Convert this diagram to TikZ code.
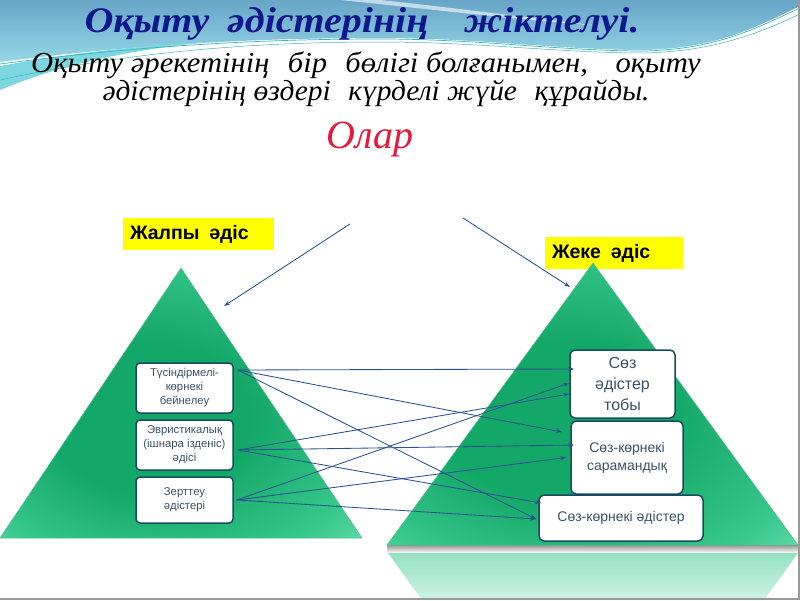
\documentclass[tikz,border=0pt]{standalone}
\usepackage{fontspec}
\setmainfont{Liberation Serif}
\newfontfamily\sansf{Liberation Sans}
\usetikzlibrary{arrows.meta,calc}
\definecolor{navy}{RGB}{12,24,140}
\definecolor{olred}{RGB}{232,25,60}
\definecolor{boxtext}{RGB}{60,82,104}
\definecolor{boxline}{RGB}{25,75,95}
\definecolor{arr}{RGB}{42,82,145}
\definecolor{trin}{RGB}{20,168,104}
\definecolor{trmid}{RGB}{55,200,140}
\definecolor{trout}{RGB}{150,236,205}
\definecolor{tredge}{RGB}{80,190,140}
\definecolor{tealtop}{RGB}{105,165,200}
\definecolor{tealbot}{RGB}{150,215,230}
\definecolor{cyanband}{RGB}{125,215,225}
\definecolor{tline}{RGB}{60,180,190}
\definecolor{lab}{RGB}{255,255,0}
\pgfdeclareradialshading{trishade}{\pgfpoint{-6bp}{-4bp}}{color(0bp)=(trin); color(14bp)=(trin); color(30bp)=(trmid); color(45bp)=(trout); color(50bp)=(trout)}
\tikzset{
  lbox/.style={draw=boxline,line width=1.5pt,rounded corners=4pt,fill=white,align=center,
    text=boxtext,font=\sansf\fontsize{11.3}{14}\selectfont,inner sep=1pt},
  rbox/.style={draw=boxline,line width=1.5pt,rounded corners=5pt,fill=white,align=center,
    text=boxtext,inner sep=1pt},
  ylab/.style={fill=lab,font=\sansf\bfseries\fontsize{19.5}{22}\selectfont,text=black,
    minimum height=32pt,align=left,inner xsep=7pt,inner ysep=0pt},
  link/.style={draw=arr,line width=0.85pt,-{Stealth[length=6pt,width=4pt]}},
  tri/.style={draw=tredge,line width=0.5pt,shading=trishade}
}
\begin{document}
\begin{tikzpicture}[x=1pt,y=-1pt]
\useasboundingbox (0,0) rectangle (800,600);
\fill[white] (0,0) rectangle (800,600);
% background wave
\shade[top color=tealtop,bottom color=tealbot]
  (0,0) -- (800,0) -- (800,6) .. controls (760,25) and (720,48) .. (645,50)
  .. controls (560,50) and (480,38) .. (380,38)
  .. controls (250,38) and (130,45) .. (0,62) -- cycle;
\fill[cyanband] (0,66) .. controls (60,55) and (130,46) .. (220,41)
  .. controls (130,49) and (60,65) .. (0,90) -- cycle;
\fill[white,opacity=0.6] (340,0) .. controls (420,8) and (500,18) .. (600,26)
  .. controls (500,14) and (420,4) .. (380,0) -- cycle;
\draw[tline,line width=0.7pt] (0,64) .. controls (130,47) and (250,39) .. (380,39)
  .. controls (480,39) and (560,51) .. (645,51) .. controls (720,49) and (760,26) .. (800,8);
\draw[tline,line width=0.5pt] (0,80) .. controls (130,52) and (250,42) .. (380,42)
  .. controls (480,42) and (560,53) .. (645,53) .. controls (720,51) and (765,30) .. (800,14);
% titles
\node[anchor=base,text=navy,font=\bfseries\itshape\fontsize{36}{40}\selectfont] (title) at (362,32)
  {\scalebox{1.11}[1]{Оқыту\hspace{0.45em}әдістерінің\hspace{0.9em}жіктелуі.}};
\node[anchor=base,font=\itshape\fontsize{29}{30}\selectfont] (sub1) at (366,72)
  {\scalebox{1.055}[1]{Оқыту әрекетінің\hspace{0.6em}бір\hspace{0.6em}бөлігі болғанымен,\hspace{0.9em}оқыту}};
\node[anchor=base,font=\itshape\fontsize{29}{30}\selectfont] (sub2) at (376,100)
  {\scalebox{1.015}[1]{әдістерінің өздері\hspace{0.6em}күрделі жүйе\hspace{0.6em}құрайды.}};
\node[anchor=base,text=olred,font=\itshape\fontsize{40}{44}\selectfont] (olar) at (370,148) {Олар};
% labels
\node[ylab,minimum width=151pt,text width=137pt] (gen) at (198.5,234) {Жалпы\hspace{0.5em}әдіс};
\node[ylab,minimum width=138pt,text width=124pt] (spec) at (614,253) {Жеке\hspace{0.5em}әдіс};
% right reflection and shadow
\shade[top color={rgb,255:red,150;green,150;blue,150},bottom color=white] (387,545) rectangle (798,553);
\shade[top color={rgb,255:red,150;green,226;blue,196},bottom color={rgb,255:red,205;green,242;blue,228}]
  (388,553) -- (798,553) -- (764,600) -- (422,600) -- cycle;
% triangles
\path[tri] (181,268) -- (362,538) -- (0,538) -- cycle;
\path[tri] (593,263) -- (798,545) -- (387,545) -- cycle;
% boxes
\node[lbox,minimum width=97pt,minimum height=50pt] (b1) at (184.5,388) {Түсіндірмелі-\\көрнекі\\бейнелеу};
\node[lbox,minimum width=97pt,minimum height=50pt] (b2) at (184.5,445) {Эвристикалық\\(ішнара ізденіс)\\әдісі};
\node[lbox,minimum width=97pt,minimum height=46pt] (b3) at (184.5,500) {Зерттеу\\әдістері};
\node[rbox,minimum width=105pt,minimum height=68pt,font=\sansf\fontsize{16}{21}\selectfont] (A) at (622.5,384) {Сөз\\әдістер\\тобы};
\node[rbox,minimum width=112pt,minimum height=73pt,font=\sansf\fontsize{14}{18}\selectfont] (B) at (627,457.5) {Сөз-көрнекі\\сарамандық};
\node[rbox,minimum width=164pt,minimum height=46pt,font=\sansf\fontsize{14}{18}\selectfont] (C) at (621,518) {Сөз-көрнекі әдістер};
% top arrows
\coordinate (t1s) at (350,224);
\coordinate (t1e) at (224,306);
\coordinate (t2s) at (463,218);
\coordinate (t2e) at (570,287);
\draw[link] (t1s) -- (t1e);
\draw[link] (t2s) -- (t2e);
% links
\draw[link] ($(b1.east)+(4,-18)$) -- ($(A.west)+(5,-15)$);
\draw[link] ($(b1.east)+(4,-18)$) -- ($(B.west)+(-8,-25.5)$);
\draw[link] ($(b1.east)+(4,-18)$) -- ($(C.west)+(-2,1)$);
\draw[link] ($(b2.east)+(4,5)$) -- ($(A.west)+(0,10)$);
\draw[link] ($(b2.east)+(4,5)$) -- ($(B.west)+(4,-12.5)$);
\draw[link] ($(b2.east)+(4,5)$) -- ($(C.west)+(3,-15)$);
\draw[link] ($(b3.east)+(3,0)$) -- ($(A.west)+(0,-1)$);
\draw[link] ($(b3.east)+(3,0)$) -- ($(B.west)+(-4,0)$);
\draw[link] ($(b3.east)+(3,0)$) -- ($(C.west)+(-2,1)$);
% frame
\draw[gray!80,line width=2.5pt] (798.75,0) -- (798.75,598.75) -- (0,598.75);
\end{tikzpicture}
\end{document}
